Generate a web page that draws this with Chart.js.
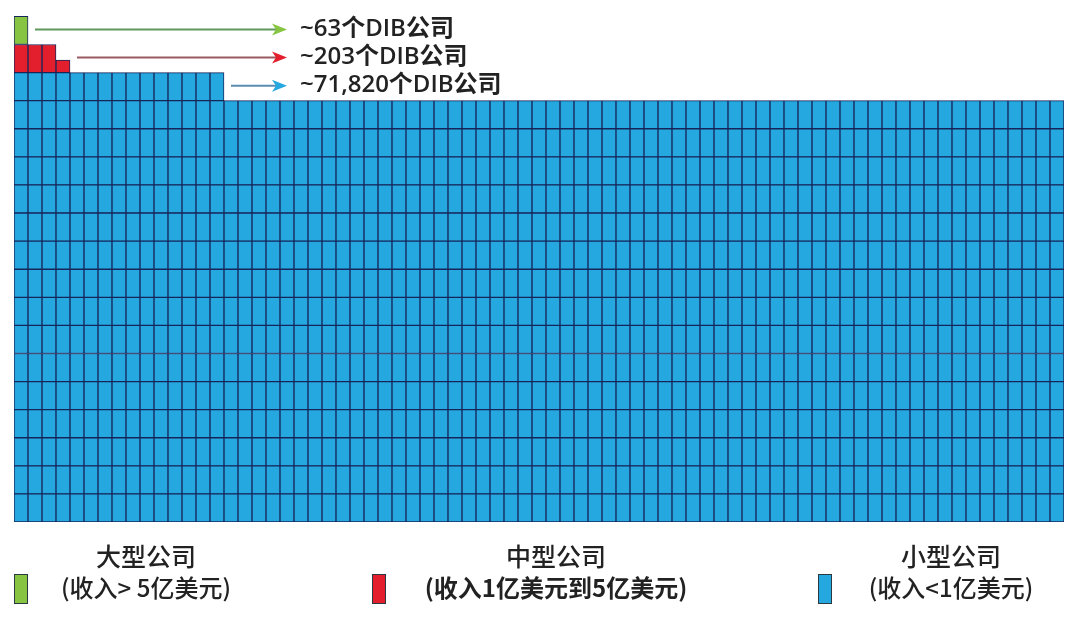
<!DOCTYPE html>
<html>
<head>
<meta charset="utf-8">
<script src="https://cdn.jsdelivr.net/npm/chart.js@4"></script>
<style>
  body { margin: 0; background: #fff; }
  #wrap { width: 1080px; height: 618px; position: relative; }
</style>
</head>
<body>
<div id="wrap"><canvas id="waffleChart"></canvas></div>
<script>
// values
const companyCounts = [63, 203, 71820];          // large, medium, small
const companiesPerCell = 63;
const gridColumns = 75;
const largeColumnCells = [1];                      // green stack, per column
const mediumColumnCells = [1, 1, 1, 0.45];         // red stack, per column
const legendTitles = ["大型公司", "中型公司", "小型公司"];
const legendRanges = ["(收入> 5亿美元)", "(收入1亿美元到5亿美元)", "(收入<1亿美元)"];
const groupColors = ["#86c441", "#e41f2d", "#25a7e0"];
const arrowLineColors = ["#5f9a5c", "#9a5a5e", "#5b8db3"];

document.addEventListener("DOMContentLoaded", function () {
    let columns = [];
    for (let i = 0; i < gridColumns; i++) columns.push(i);

    // small companies fill the grid row by row
    let smallCells = Math.round(companyCounts[2] / companiesPerCell);
    let rowCount = Math.ceil(smallCells / gridColumns);
    let datasets = [];
    for (let r = 0; r < rowCount; r++) {
        datasets.push({
            label: "small-" + r,
            data: columns.map(c => (r * gridColumns + c < smallCells ? 1 : null)),
            backgroundColor: groupColors[2]
        });
    }
    datasets.push({ label: "medium", data: mediumColumnCells, backgroundColor: groupColors[1] });
    datasets.push({ label: "large", data: largeColumnCells, backgroundColor: groupColors[0] });
    datasets.forEach(ds => {
        ds.borderColor = "#17265a";
        ds.borderWidth = 1;
        ds.borderSkipped = false;
        ds.barPercentage = 1;
        ds.categoryPercentage = 1;
    });

    // arrows + labels at the top, custom legend at the bottom
    const annotate = {
        id: "annotate",
        afterDraw(chart) {
            let ctx = chart.ctx;
            let area = chart.chartArea;
            let y = chart.scales.y;
            let cellW = area.width / gridColumns;
            let tipX = 287;
            let rows = [
                { yVal: rowCount + 1.5, startCol: 1, color: 0 },
                { yVal: rowCount + 0.5, startCol: mediumColumnCells.length, color: 1 },
                { yVal: rowCount - 0.5, startCol: smallCells - (rowCount - 1) * gridColumns, color: 2 }
            ];
            ctx.save();
            rows.forEach((row, i) => {
                let py = y.getPixelForValue(row.yVal) - 1;
                let sx = area.left + row.startCol * cellW + 7;
                ctx.strokeStyle = arrowLineColors[row.color];
                ctx.lineWidth = 2;
                ctx.beginPath();
                ctx.moveTo(sx, py);
                ctx.lineTo(tipX - 10, py);
                ctx.stroke();
                ctx.fillStyle = groupColors[row.color];
                ctx.beginPath();
                ctx.moveTo(tipX, py);
                ctx.lineTo(tipX - 15, py - 6);
                ctx.lineTo(tipX - 11, py);
                ctx.lineTo(tipX - 15, py + 6);
                ctx.closePath();
                ctx.fill();

                ctx.fillStyle = "#222";
                ctx.font = '600 24px "Open Sans", "Noto Sans CJK SC"';
                ctx.textAlign = "left";
                ctx.textBaseline = "middle";
                let label = "~" + companyCounts[i].toLocaleString("en-US") + "个DIB公司";
                ctx.fillText(label, 300, py);
            });

            let centers = [146, 556, 951];
            let boxX = [14, 372, 818];
            let weights = ["500", "700", "500"];
            legendTitles.forEach((t, i) => {
                ctx.fillStyle = "#222";
                ctx.textAlign = "center";
                ctx.textBaseline = "middle";
                ctx.font = '500 25px "Noto Sans CJK SC"';
                ctx.fillText(t, centers[i], 556);
                ctx.font = weights[i] + ' 24px "Noto Sans CJK SC"';
                ctx.fillText(legendRanges[i], centers[i], 588);

                ctx.fillStyle = groupColors[i];
                ctx.fillRect(boxX[i], 574, 14, 30);
                ctx.strokeStyle = "#2a3a40";
                ctx.lineWidth = 1;
                ctx.strokeRect(boxX[i] + 0.5, 574.5, 13, 29);
            });
            ctx.restore();
        }
    };

    new Chart(document.getElementById("waffleChart"), {
        type: "bar",
        data: { labels: columns, datasets: datasets },
        options: {
            responsive: true,
            maintainAspectRatio: false,
            animation: false,
            layout: { padding: { left: 14, right: 16, top: 8, bottom: 96 } },
            plugins: { legend: { display: false }, tooltip: { enabled: false } },
            scales: {
                x: { stacked: true, display: false },
                y: { stacked: true, display: false, min: 0, max: 18.3 }
            }
        },
        plugins: [annotate]
    });
});
</script>
</body>
</html>
